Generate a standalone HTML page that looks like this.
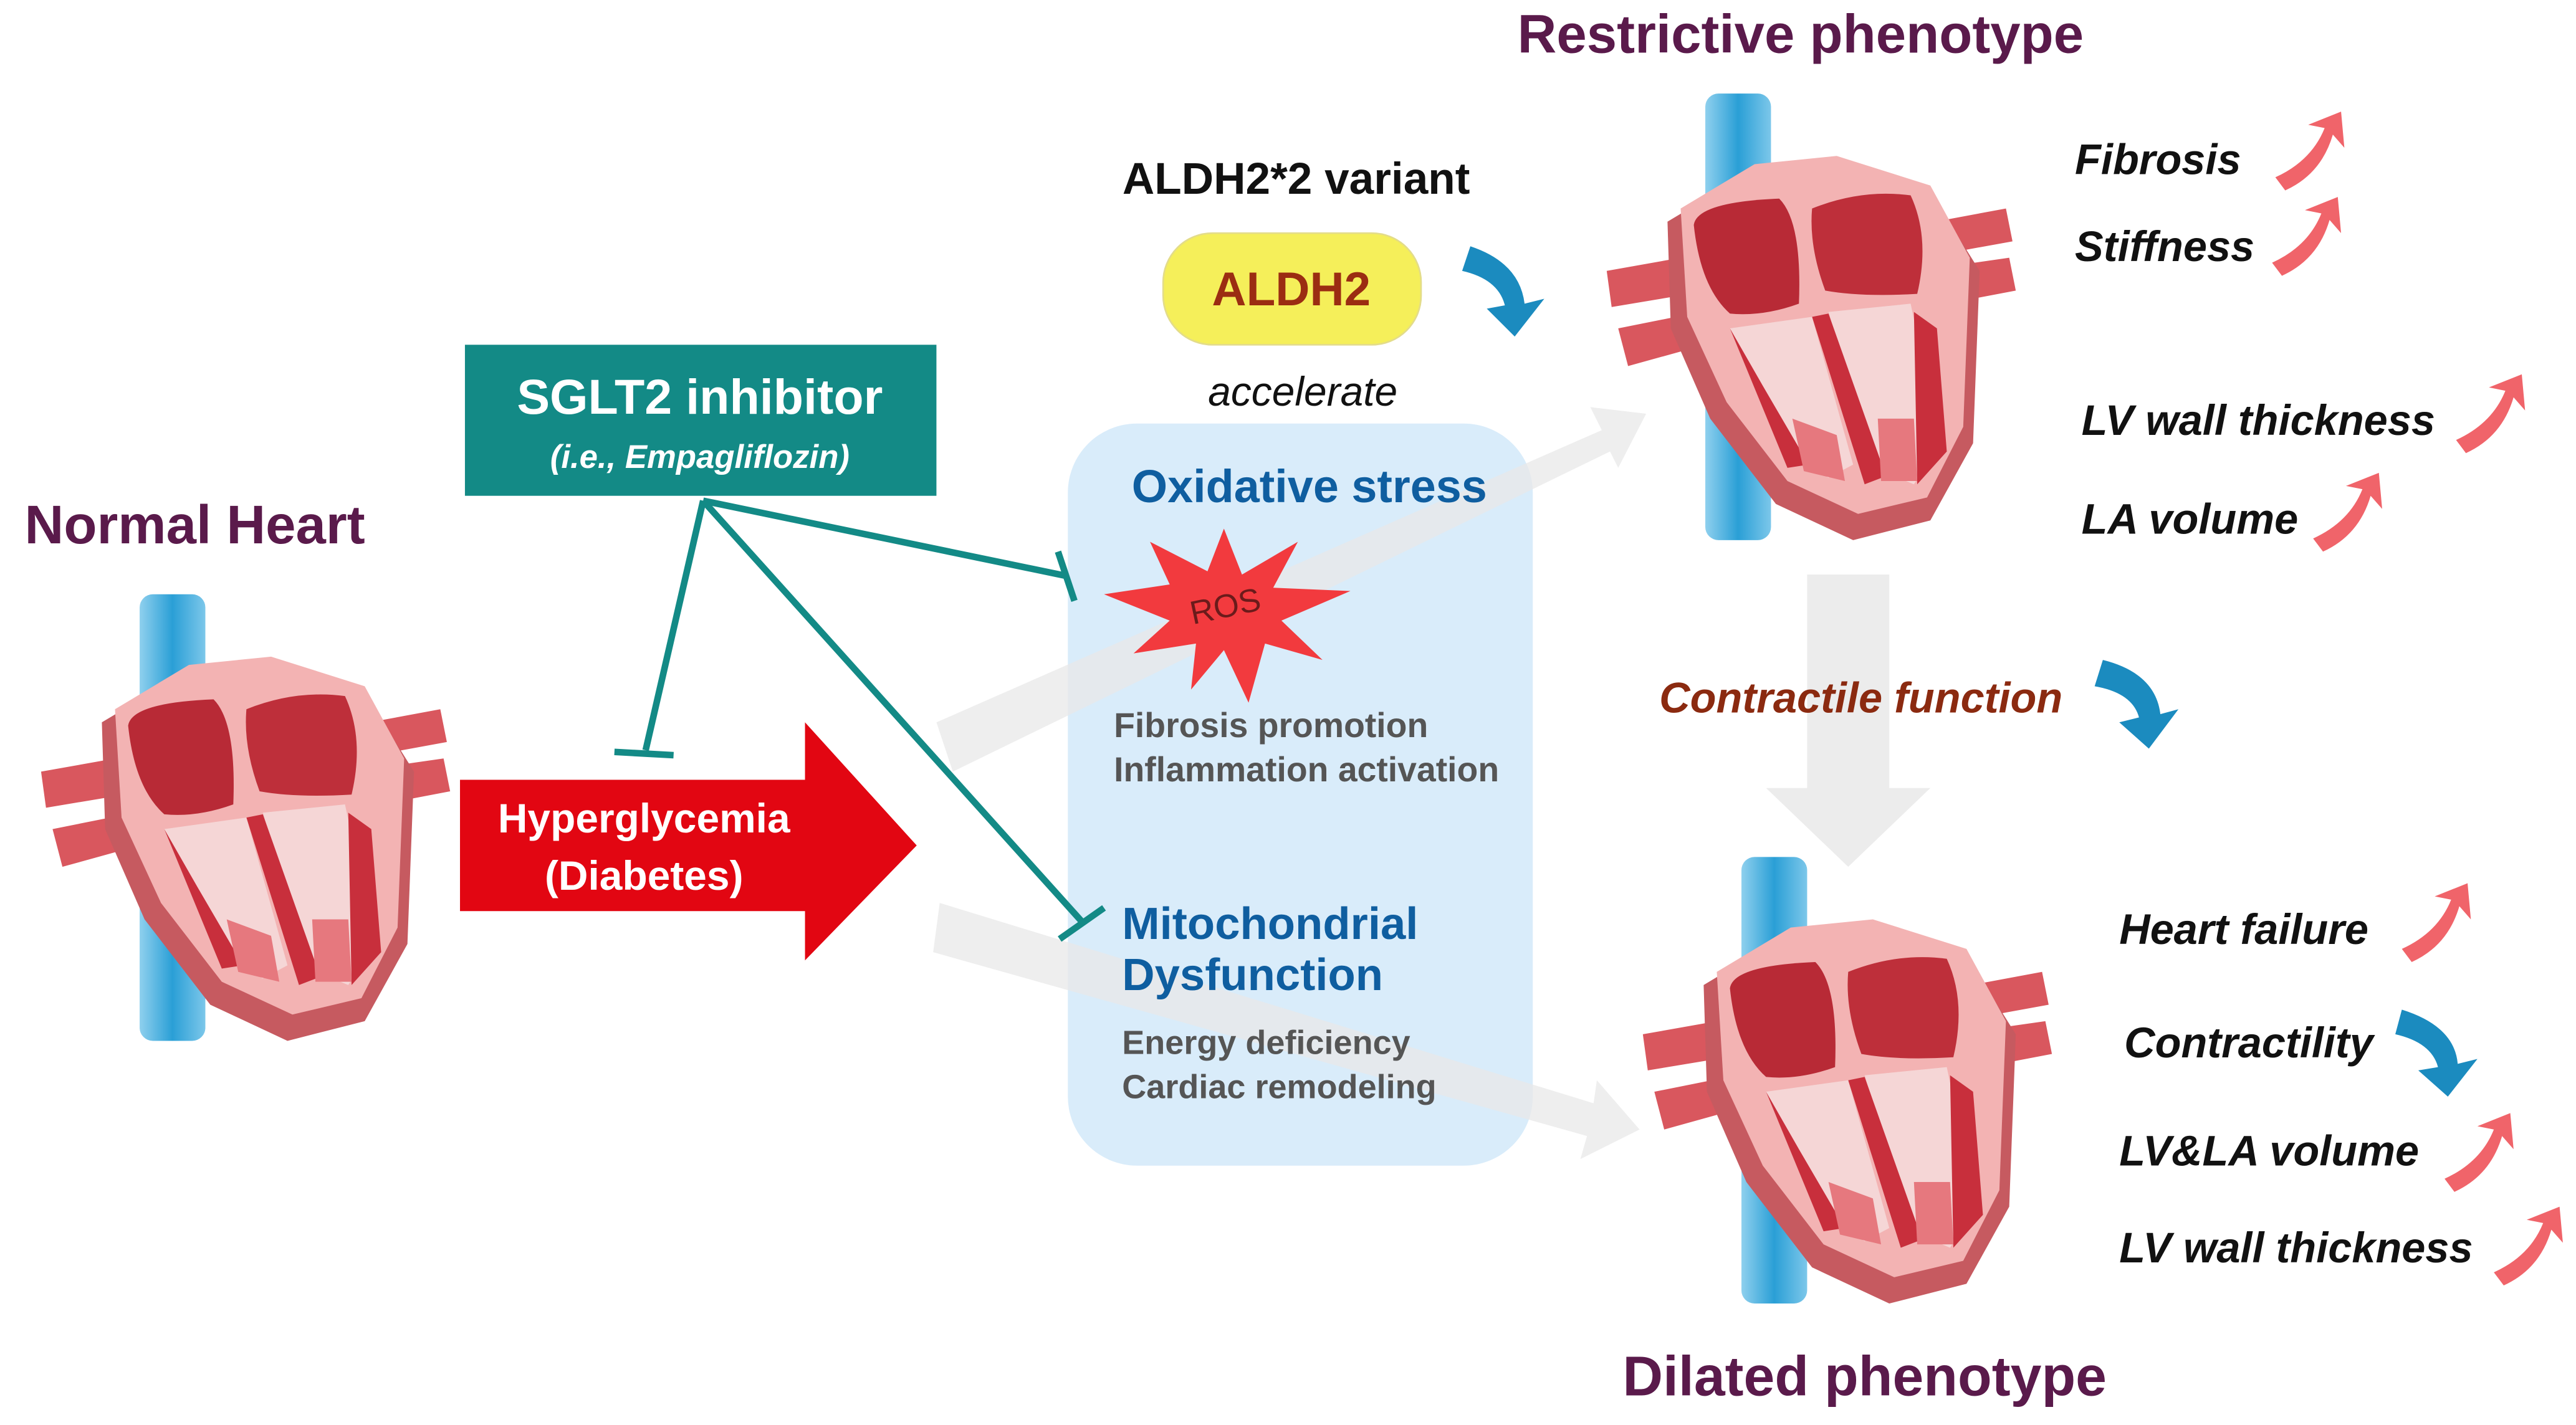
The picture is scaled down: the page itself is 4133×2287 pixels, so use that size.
<!DOCTYPE html>
<html><head><meta charset="utf-8"><style>
html,body{margin:0;padding:0;background:#fff;}
svg{display:block;}
text{font-family:"Liberation Sans",Arial,sans-serif;}
</style></head><body>
<svg width="4133" height="2287" viewBox="0 0 1568 868" preserveAspectRatio="none" xmlns="http://www.w3.org/2000/svg">
<defs>
<linearGradient id="vein" x1="0" x2="1"><stop offset="0" stop-color="#8fd0ee"/><stop offset="0.5" stop-color="#2a9fd6"/><stop offset="1" stop-color="#7cc7ea"/></linearGradient>
<g id="heart">
  <rect x="85" y="362" width="40" height="272" rx="8" fill="url(#vein)"/>
  <path d="M25,470 L70,462 L70,485 L28,492 Z" fill="#d9575e"/>
  <path d="M32,505 L72,497 L74,518 L38,528 Z" fill="#d9575e"/>
  <path d="M225,440 L268,432 L272,452 L228,460 Z" fill="#d9575e"/>
  <path d="M228,468 L270,462 L274,482 L232,490 Z" fill="#d9575e"/>
  <path d="M62,440 L112,410 L165,404 L222,422 L252,470 L248,575 L222,622 L175,634 L128,612 L88,560 L64,505 Z" fill="#c65a60"/>
  <path d="M70,432 L115,405 L165,400 L222,418 L246,462 L242,565 L220,608 L178,618 L135,598 L98,550 L74,498 Z" fill="#f3b3b3"/>
  <path d="M78,442 Q80,428 130,426 Q144,440 142,490 Q120,498 100,496 Q82,480 78,442 Z" fill="#b82a36"/>
  <path d="M150,432 Q180,420 210,424 Q222,450 214,484 Q180,486 158,482 Q148,455 150,432 Z" fill="#be2f3a"/>
  <path d="M100,505 L150,498 L175,588 L160,596 L140,585 Z" fill="#f5d6d6"/>
  <path d="M100,505 L120,540 L148,588 L135,590 Z" fill="#c82f3c"/>
  <path d="M160,495 L210,490 L228,575 L212,600 L188,590 Z" fill="#f5d6d6"/>
  <path d="M212,495 L226,505 L232,580 L214,600 Z" fill="#c82f3c"/>
  <path d="M150,498 L160,496 L195,595 L182,600 Z" fill="#c82f3c"/>
  <path d="M138,560 L165,570 L170,598 L145,592 Z" fill="#e6787e"/>
  <path d="M190,560 L212,560 L214,598 L192,598 Z" fill="#e6787e"/>
</g>
<g id="upr"><path d="M0,30 Q22,20 30,0 L20,-2 L40,-10 L42,12 L35,4 Q28,28 6,38 Z" fill="#f0646a"/></g>
</defs>

<text x="1096" y="32" font-size="33" font-weight="bold" fill="#5a1a4b" text-anchor="middle">Restrictive phenotype</text>
<text x="15" y="331" font-size="33" font-weight="bold" fill="#5a1a4b">Normal Heart</text>
<text x="1135" y="850" font-size="34" font-weight="bold" fill="#5a1a4b" text-anchor="middle">Dilated phenotype</text>

<rect x="650" y="258" width="283" height="452" rx="42" fill="#d9ecfa"/>

<g opacity="0.75">
<path d="M570,440 L975,262 L968,248 L1002,252 L985,285 L980,275 L580,470 Z" fill="#e8e8e8"/>
<path d="M572,550 L970,672 L972,658 L998,688 L962,706 L966,692 L568,580 Z" fill="#e8e8e8"/>
</g>

<text x="797" y="306" font-size="28" font-weight="bold" fill="#0f5ea0" text-anchor="middle">Oxidative stress</text>
<polygon points="745,322 756,350 790,330 775,358 822,360 780,378 805,402 770,392 760,428 745,396 725,420 728,392 690,398 712,378 672,362 712,356 700,330 735,348" fill="#f23a3e"/>
<text x="746" y="376" font-size="20" fill="#6b1b1b" text-anchor="middle" transform="rotate(-12 746 370)">ROS</text>
<text x="678" y="449" font-size="21" font-weight="bold" fill="#555">Fibrosis promotion</text>
<text x="678" y="476" font-size="21" font-weight="bold" fill="#555">Inflammation activation</text>
<text x="683" y="572" font-size="27.5" font-weight="bold" fill="#0f5ea0">Mitochondrial</text>
<text x="683" y="603" font-size="27.5" font-weight="bold" fill="#0f5ea0">Dysfunction</text>
<text x="683" y="642" font-size="20.5" font-weight="bold" fill="#555">Energy deficiency</text>
<text x="683" y="669" font-size="20.5" font-weight="bold" fill="#555">Cardiac remodeling</text>

<rect x="283" y="210" width="287" height="92" fill="#138a86"/>
<text x="426" y="252" font-size="30" font-weight="bold" fill="#fff" text-anchor="middle">SGLT2 inhibitor</text>
<text x="426" y="285" font-size="20" font-weight="bold" font-style="italic" fill="#fff" text-anchor="middle">(i.e., Empagliflozin)</text>
<g stroke="#138a86" stroke-width="4" fill="none">
<line x1="428" y1="305" x2="393" y2="457"/><line x1="374" y1="458" x2="410" y2="460"/>
<line x1="428" y1="305" x2="650" y2="351"/><line x1="644" y1="336" x2="654" y2="366"/>
<line x1="428" y1="305" x2="660" y2="563"/><line x1="645" y1="572" x2="672" y2="553"/>
</g>

<path d="M280,475 L490,475 L490,440 L558,515 L490,585 L490,555 L280,555 Z" fill="#e20612"/>
<text x="392" y="507" font-size="25" font-weight="bold" fill="#fff" text-anchor="middle">Hyperglycemia</text>
<text x="392" y="542" font-size="25" font-weight="bold" fill="#fff" text-anchor="middle">(Diabetes)</text>

<text x="789" y="118" font-size="27" font-weight="bold" fill="#111" text-anchor="middle">ALDH2*2 variant</text>
<rect x="708" y="142" width="157" height="68" rx="30" fill="#f5ef5a" stroke="#e3dc8a"/>
<text x="786" y="186" font-size="29" font-weight="bold" fill="#9b2d12" text-anchor="middle">ALDH2</text>
<text x="793" y="247" font-size="25" font-style="italic" fill="#111" text-anchor="middle">accelerate</text>
<path d="M895,150 Q925,160 928,185 L940,182 L922,205 L905,188 L916,186 Q912,170 890,165 Z" fill="#1b8bbf"/>

<use href="#heart"/>
<use href="#heart" transform="translate(953,-305)"/>
<use href="#heart" transform="translate(975,160)"/>

<path d="M1100,350 L1150,350 L1150,480 L1175,480 L1125,528 L1075,480 L1100,480 Z" fill="#ececec"/>
<text x="1010" y="434" font-size="26" font-weight="bold" font-style="italic" fill="#8b2a10">Contractile function</text>
<path d="M1280,402 Q1312,410 1315,435 L1326,432 L1308,456 L1290,440 L1302,437 Q1298,422 1275,418 Z" fill="#1b8bbf"/>

<g font-size="26" font-weight="bold" font-style="italic" fill="#111">
<text x="1263" y="106">Fibrosis</text>
<text x="1263" y="159">Stiffness</text>
<text x="1267" y="265">LV wall thickness</text>
<text x="1267" y="325">LA volume</text>
<text x="1290" y="575">Heart failure</text>
<text x="1293" y="644">Contractility</text>
<text x="1290" y="710">LV&amp;LA volume</text>
<text x="1290" y="769">LV wall thickness</text>
</g>
<use href="#upr" transform="translate(1385,78)"/>
<use href="#upr" transform="translate(1383,130)"/>
<use href="#upr" transform="translate(1495,238)"/>
<use href="#upr" transform="translate(1408,298)"/>
<use href="#upr" transform="translate(1462,548)"/>
<use href="#upr" transform="translate(1488,688)"/>
<use href="#upr" transform="translate(1518,745)"/>
<path d="M1462,615 Q1494,625 1496,648 L1508,645 L1490,668 L1472,652 L1484,650 Q1480,635 1458,630 Z" fill="#1b8bbf"/>
</svg>
</body></html>
